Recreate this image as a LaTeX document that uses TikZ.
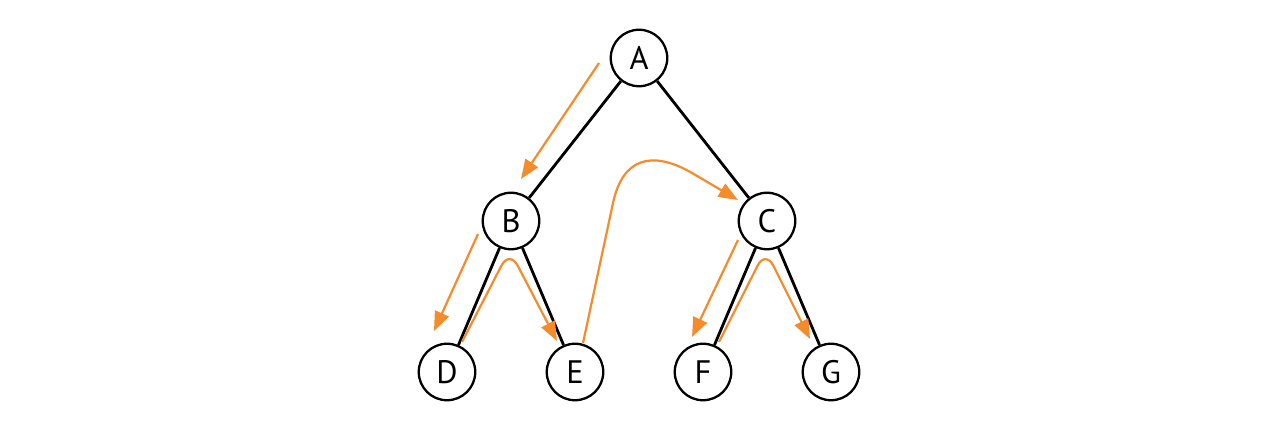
\documentclass[tikz,border=0pt]{standalone}
\usepackage{fontspec}
\setmainfont{PT Sans}
\usetikzlibrary{positioning,arrows.meta}
\definecolor{walkorange}{HTML}{F68B2C}

\begin{document}
\begin{tikzpicture}[node distance=3.26cm and 2.56cm,on grid,
  vertex/.style={circle,draw,line width=1.3pt,minimum size=1.13cm,inner sep=0pt,font=\fontsize{18.5}{21}\selectfont},
  edge/.style={line width=1.6pt},
  walk/.style={walkorange,line width=1.25pt,-{Triangle[length=11pt,width=8.5pt]}}]
\useasboundingbox (0,0) rectangle (25.58,8.5);
\node[vertex] (A) at (12.78,7.34) {A};
\node[vertex] (B) [below left=of A] {B};
\node[vertex] (C) [below right=of A] {C};
\node[vertex] (D) [below left=3.02cm and 1.28cm of B] {D};
\node[vertex] (E) [below right=3.02cm and 1.28cm of B] {E};
\node[vertex] (F) [below left=3.02cm and 1.28cm of C] {F};
\node[vertex] (G) [below right=3.02cm and 1.28cm of C] {G};

\draw[edge] (A) -- (B);
\draw[edge] (A) -- (C);
\draw[edge] (B) -- (D);
\draw[edge] (B) -- (E);
\draw[edge] (C) -- (F);
\draw[edge] (C) -- (G);

\coordinate (ab1) at (11.98,7.24);
\coordinate (ab2) at (10.42,4.92);
\coordinate (bd1) at (9.56,3.82);
\coordinate (bd2) at (8.68,1.88);
\coordinate (de1) at (9.24,1.66);
\coordinate (de2) at (11.14,1.68);
\coordinate (ec1) at (11.66,1.64);
\coordinate (ec2) at (14.76,4.50);
\coordinate (cf1) at (14.76,3.70);
\coordinate (cf2) at (13.84,1.76);
\coordinate (fg1) at (14.38,1.66);
\coordinate (fg2) at (16.20,1.72);

\draw[walk] (ab1) -- (ab2);
\draw[walk] (bd1) -- (bd2);
\draw[walk,rounded corners=10pt] (de1) -- (10.19,3.50) -- (de2);
\draw[walk] (ec1) -- (12.26,4.44) to[out=78,in=150,looseness=1.4] (13.84,5.04) -- (ec2);
\draw[walk] (cf1) -- (cf2);
\draw[walk,rounded corners=10pt] (fg1) -- (15.31,3.50) -- (fg2);
\end{tikzpicture}
\end{document}
